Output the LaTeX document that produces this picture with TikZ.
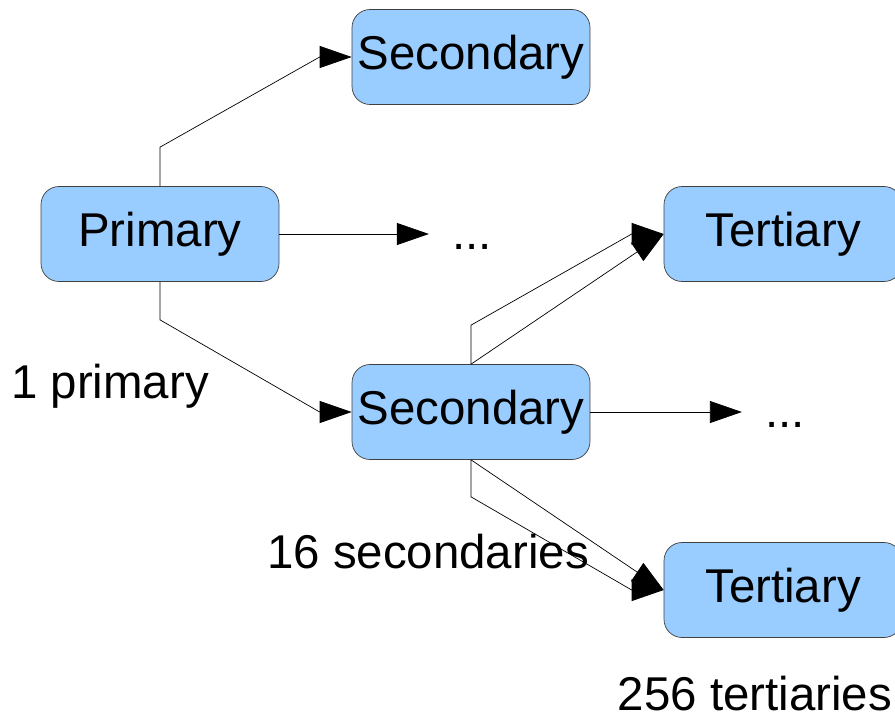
\documentclass[tikz,border=0pt]{standalone}
\usepackage{fontspec}
\setmainfont{Liberation Sans}
\usetikzlibrary{arrows.meta}
\definecolor{boxblue}{HTML}{99CCFF}

\begin{document}
\begin{tikzpicture}
[x=0.02cm, y=-0.02cm, >={Triangle[length=0.64cm, width=0.44cm]}, line width=0.4pt,
 box/.style={draw=black!75, fill=boxblue, rounded corners=0.36cm, minimum width=4.76cm, minimum height=1.9cm, inner sep=0, font=\fontsize{27}{31}\selectfont},
 note/.style={inner sep=0, font=\fontsize{27}{31}\selectfont},
 dots/.style={note, inner xsep=0.46cm}]
\useasboundingbox (0, 0) rectangle (895, 720);
\fill [white] (0, 0) rectangle (895, 720);
\node (prim) [box] at (160, 234) {Primary};
\node (sec1) [box] at (471, 57) {Secondary};
\node (sec2) [box] at (471, 412) {Secondary};
\node (ter1) [box] at (783, 234) {Tertiary};
\node (ter2) [box] at (783, 590) {Tertiary};
\node (dots1) [dots] at (472, 247) {...};
\node (dots2) [dots] at (785, 425) {...};
\node (lab1) [note] at (110, 386) {1 primary};
\node (lab2) [note] at (428, 552) {16 secondaries};
\node (lab3) [note] at (755, 694) {256 tertiaries};
% primary to secondaries
\draw [->] (prim.north) -- ++(0, -39) -- ([xshift=-0.64cm]sec1.west) -- (sec1.west);
\draw [->] (prim.east) -- (prim.east -| dots1.west);
\draw [->] (prim.south) -- ++(0, 38) -- ([xshift=-0.64cm]sec2.west) -- (sec2.west);
% secondary to tertiaries
\draw [->] (sec2.north) -- ++(0, -39) -- ([xshift=-0.64cm]ter1.west) -- (ter1.west);
\draw [->] (sec2.north) -- (ter1.west);
\draw [->] (sec2.east) -- (sec2.east -| dots2.west);
\draw [->] (sec2.south) -- ++(0, 37) -- ([xshift=-0.64cm]ter2.west) -- (ter2.west);
\draw [->] (sec2.south) -- (ter2.west);
\end{tikzpicture}
\end{document}
